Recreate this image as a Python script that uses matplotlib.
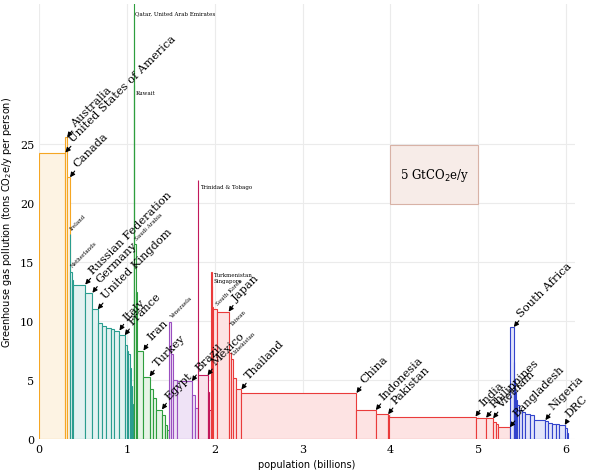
import matplotlib
matplotlib.use("Agg")
import matplotlib.pyplot as plt
from matplotlib.patches import Rectangle

# Region groups: (name, population in billions, tCO2e/y per person)
north_america = [("United States of America", 0.300, 24.3), ("Australia", 0.020, 25.6), ("Canada", 0.033, 22.2)]
europe = [("Ireland", 0.004, 17.4), ("Netherlands", 0.016, 14.2), ("", 0.010, 13.5),
          ("Russian Federation", 0.143, 13.1), ("Germany", 0.082, 12.4), ("United Kingdom", 0.060, 11.0),
          ("", 0.050, 9.8), ("", 0.040, 9.6), ("", 0.060, 9.4), ("", 0.040, 9.3),
          ("Italy", 0.058, 9.2), ("France", 0.060, 8.8), ("", 0.020, 8.0), ("", 0.015, 7.5),
          ("", 0.020, 7.2), ("", 0.015, 6.0), ("", 0.010, 4.5), ("", 0.010, 3.0), ("", 0.010, 2.0)]
middle_east = [("Qatar, United Arab Emirates", 0.001, 55.0), ("", 0.004, 36.0), ("Kuwait", 0.003, 30.0),
               ("Saudi Arabia", 0.025, 16.5), ("", 0.010, 12.5), ("Iran", 0.070, 7.5), ("Turkey", 0.070, 5.3),
               ("", 0.040, 4.2), ("", 0.030, 3.5), ("Egypt", 0.070, 2.5), ("", 0.030, 2.0),
               ("", 0.030, 1.2), ("", 0.020, 0.8)]
latin_america = [("Venezuela", 0.026, 9.9), ("", 0.015, 7.2), ("", 0.050, 5.0), ("Brazil", 0.170, 4.9),
                 ("", 0.040, 3.7), ("", 0.030, 2.6)]
central_america = [("Trinidad & Tobago", 0.0013, 22.0), ("Mexico", 0.107, 5.4), ("", 0.020, 4.0), ("", 0.020, 2.5)]
asia = [("Turkmenistan", 0.005, 14.2), ("Singapore", 0.004, 13.0), ("", 0.015, 11.2),
        ("South Korea", 0.048, 11.0), ("Japan", 0.128, 10.8), ("Taiwan", 0.023, 7.3),
        ("Uzbekistan", 0.027, 6.8), ("", 0.030, 5.2), ("Thailand", 0.065, 4.2), ("China", 1.310, 3.9),
        ("Indonesia", 0.220, 2.45), ("Pakistan", 0.140, 2.1), ("", 0.010, 2.05), ("India", 0.985, 1.9),
        ("Philippines", 0.120, 1.8), ("Vietnam", 0.080, 1.75), ("", 0.030, 1.45), ("", 0.020, 1.3),
        ("Bangladesh", 0.140, 1.0)]
africa = [("South Africa", 0.045, 9.5), ("", 0.005, 6.5), ("", 0.005, 5.0), ("", 0.010, 4.0),
          ("", 0.020, 3.3), ("", 0.020, 2.9), ("", 0.030, 2.5), ("", 0.040, 2.3), ("", 0.050, 2.1),
          ("", 0.050, 2.0), ("Nigeria", 0.130, 1.6), ("", 0.030, 1.5), ("", 0.040, 1.35),
          ("", 0.050, 1.3), ("", 0.040, 1.25), ("DRC", 0.060, 1.2), ("", 0.020, 0.9), ("", 0.020, 0.5)]

regions = [(north_america, "#f5a623", "#fdf3e3"), (europe, "#2a9d8f", "#e3f2f1"),
           (middle_east, "#2e9e3e", "#e6f4e6"), (latin_america, "#9b4fc0", "#efe3f6"),
           (central_america, "#c2185b", "#f9e1ea"), (asia, "#ea3b3b", "#fde3e3"),
           (africa, "#3344cc", "#e3e5fa")]

big = {"Australia", "United States of America", "Canada", "Russian Federation", "Germany", "United Kingdom",
       "Italy", "France", "Iran", "Turkey", "Egypt", "Brazil", "Mexico", "Japan", "Thailand", "China",
       "Indonesia", "Pakistan", "India", "Philippines", "Vietnam", "Bangladesh", "Nigeria", "DRC",
       "South Africa"}
small_rot = {"Ireland", "Netherlands", "Saudi Arabia", "Venezuela", "South Korea", "Uzbekistan"}
small_flat = {"Qatar, United Arab Emirates", "Kuwait", "Trinidad & Tobago"}

fig = plt.figure(figsize=(5.9, 4.77), dpi=100)
ax = fig.add_axes([39/590, 37/477, 536/590, 435/477])
ax.set_xlim(0, 6.1)
ax.set_ylim(0, 36.9)
serif = "DejaVu Serif"

x = 0.0
for data, ec, fc in regions:
    for name, pop, val in data:
        ax.bar(x, val, width=pop, align="edge", facecolor=fc, edgecolor=ec, linewidth=0.8, zorder=2)
        xr = x + pop
        if name in big:
            off = (6, 6) if name == "DRC" else (9, 9)
            ax.annotate(name, xy=(xr, val), xytext=off, textcoords="offset pixels",
                        rotation=45, ha="left", va="bottom", rotation_mode="anchor",
                        fontsize=8.2, family=serif, zorder=5, annotation_clip=False,
                        arrowprops=dict(arrowstyle="-|>", color="black", lw=0.8, mutation_scale=7,
                                        shrinkA=0, shrinkB=0))
        elif name in small_rot:
            ax.text(xr + 0.02, val + 0.3, name, rotation=45, fontsize=4, family=serif,
                    ha="left", va="bottom", rotation_mode="anchor", zorder=5)
        elif name in small_flat:
            yy = 36.2 if val > 36 else val - 0.6
            ax.text(xr + 0.02, yy, name, fontsize=4, family=serif, ha="left", va="center", zorder=5)
        elif name == "Turkmenistan":
            ax.text(xr + 0.02, val - 0.5, "Turkmenistan\nSingapore", fontsize=4, family=serif,
                    ha="left", va="center", zorder=5)
        elif name == "Taiwan":
            ax.text(2.2, 9.5, name, rotation=45, fontsize=4, family=serif, ha="left", va="bottom",
                    rotation_mode="anchor", zorder=5)
        x = xr

ax.add_patch(Rectangle((4.0, 19.9), 1.0, 5.0, facecolor="#f7ece8", edgecolor="#d8b2a6", lw=0.8, zorder=3))
ax.text(4.5, 22.4, "5 GtCO$_2$e/y", ha="center", va="center", fontsize=8.5, family=serif, zorder=4)

ax.set_xticks(range(0, 7))
ax.set_yticks(range(0, 26, 5))
ax.tick_params(length=0, labelsize=8)
for lab in ax.get_xticklabels() + ax.get_yticklabels():
    lab.set_family(serif)
ax.grid(True, color="#ebebeb", lw=0.8, zorder=0)
ax.set_axisbelow(True)
for s in ax.spines.values():
    s.set_visible(False)
ax.set_xlabel("population (billions)", fontsize=7)
ax.set_ylabel("Greenhouse gas pollution (tons CO$_2$e/y per person)", fontsize=7)
fig.savefig("out.png", dpi=100)
